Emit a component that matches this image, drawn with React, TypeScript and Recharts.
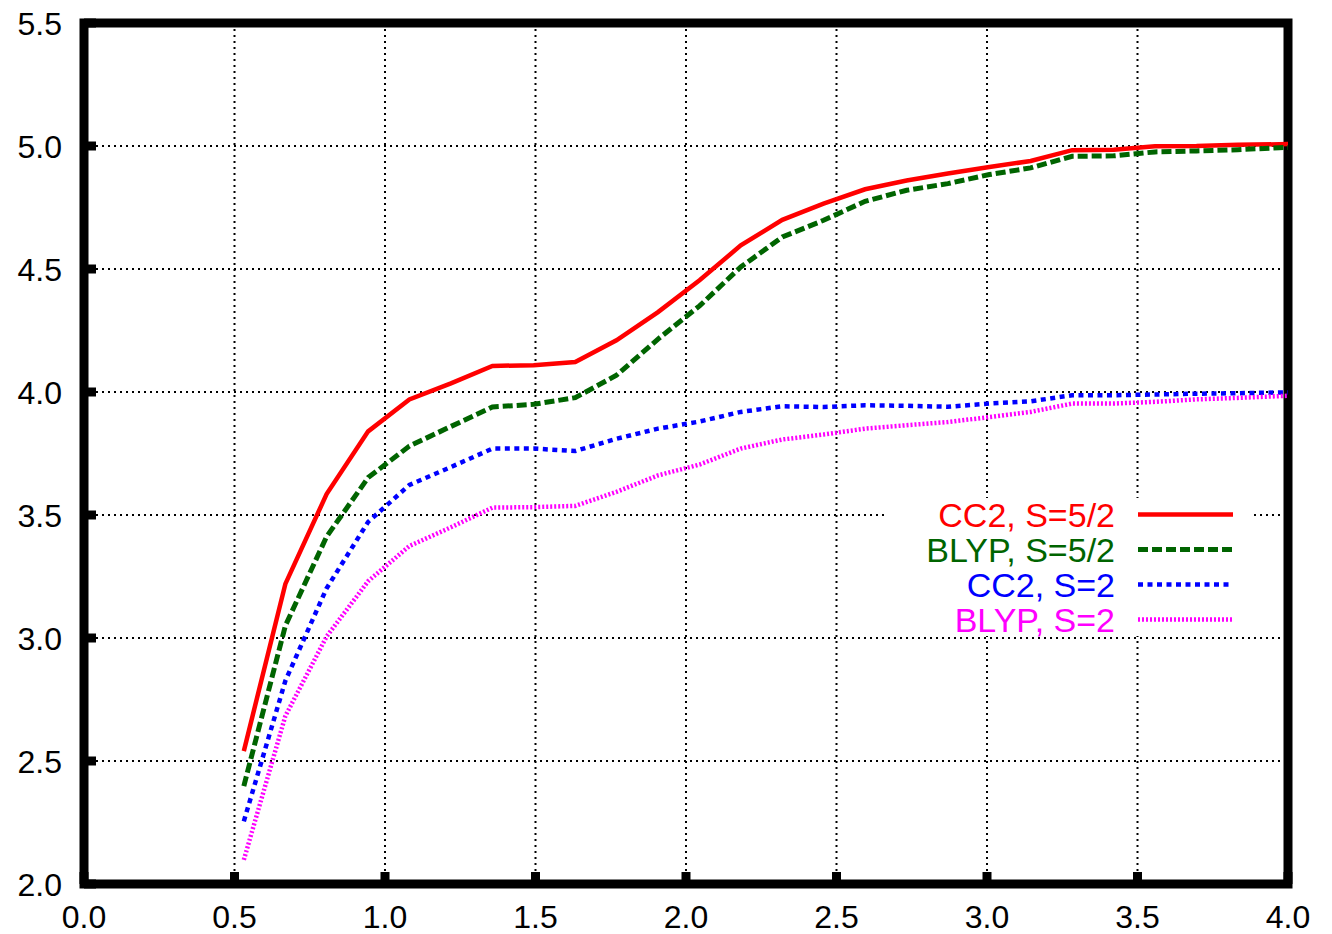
import React from 'react';
import {
  LineChart,
  Line,
  XAxis,
  YAxis,
  CartesianGrid,
  ReferenceArea,
  Legend,
} from 'recharts';

// distance samples and the four curves
const dist = [
  0.531, 0.669, 0.806, 0.944, 1.081, 1.219, 1.357, 1.494, 1.632, 1.769, 1.907, 2.045, 2.182, 2.32,
  2.457, 2.595, 2.733, 2.87, 3.008, 3.145, 3.283, 3.421, 3.558, 3.696, 3.833, 3.971, 4.109,
];
const cc2S52 = [
  2.54, 3.22, 3.585, 3.84, 3.97, 4.035, 4.106, 4.109, 4.122, 4.21, 4.325, 4.454, 4.596, 4.7,
  4.766, 4.824, 4.86, 4.888, 4.915, 4.939, 4.983, 4.985, 4.999, 5.0, 5.005, 5.007, 5.01,
];
const blypS52 = [
  2.398, 3.05, 3.412, 3.652, 3.78, 3.86, 3.939, 3.95, 3.977, 4.068, 4.215, 4.35, 4.508, 4.63,
  4.698, 4.775, 4.82, 4.847, 4.884, 4.911, 4.958, 4.96, 4.976, 4.98, 4.985, 4.993, 4.998,
];
const cc2S2 = [
  2.255, 2.826, 3.202, 3.472, 3.622, 3.695, 3.77, 3.77, 3.76, 3.81, 3.851, 3.88, 3.919, 3.942,
  3.939, 3.946, 3.944, 3.94, 3.953, 3.962, 3.987, 3.987, 3.99, 3.993, 3.995, 3.998, 4.0,
];
const blypS2 = [
  2.098, 2.683, 3.006, 3.231, 3.374, 3.45, 3.53, 3.532, 3.537, 3.594, 3.661, 3.705, 3.77, 3.807,
  3.827, 3.851, 3.865, 3.878, 3.898, 3.919, 3.953, 3.953, 3.96, 3.97, 3.976, 3.983, 3.99,
];

const xTicks = [0, 0.5, 1, 1.5, 2, 2.5, 3, 3.5, 4];
const yTicks = [2, 2.5, 3, 3.5, 4, 4.5, 5, 5.5];

const series = [
  { key: 'cc2S52', name: 'CC2, S=5/2', color: '#ff0000', width: 4.5, dash: undefined },
  { key: 'blypS52', name: 'BLYP, S=5/2', color: '#006400', width: 5, dash: '10 4' },
  { key: 'cc2S2', name: 'CC2, S=2', color: '#0000ff', width: 4.5, dash: '5 4.5' },
  { key: 'blypS2', name: 'BLYP, S=2', color: '#ff00ff', width: 4.5, dash: '2 2' },
];

const data = dist.map((d, i) => ({
  d,
  cc2S52: cc2S52[i],
  blypS52: blypS52[i],
  cc2S2: cc2S2[i],
  blypS2: blypS2[i],
}));

const FONT = '"Liberation Sans", Arial, Helvetica, sans-serif';
const TICK_LEN = 12;
const TICK_W = 9;

const BottomTick = (props: any) => {
  const { x, y, payload } = props;
  return (
    <g>
      <line x1={x} y1={y} x2={x} y2={y - TICK_LEN} stroke="#000" strokeWidth={TICK_W} />
      <text x={x} y={y + 44} textAnchor="middle" fontSize={32} fontFamily={FONT} fill="#000">
        {payload.value.toFixed(1)}
      </text>
    </g>
  );
};

const TopTick = (props: any) => {
  const { x, y } = props;
  return <line x1={x} y1={y} x2={x} y2={y + TICK_LEN} stroke="#000" strokeWidth={TICK_W} />;
};

const LeftTick = (props: any) => {
  const { x, y, payload } = props;
  return (
    <g>
      <line x1={x} y1={y} x2={x + TICK_LEN} y2={y} stroke="#000" strokeWidth={TICK_W} />
      <text x={x - 22} y={y + 11.5} textAnchor="end" fontSize={32} fontFamily={FONT} fill="#000">
        {payload.value.toFixed(1)}
      </text>
    </g>
  );
};

const RightTick = (props: any) => {
  const { x, y } = props;
  return <line x1={x} y1={y} x2={x - TICK_LEN} y2={y} stroke="#000" strokeWidth={TICK_W} />;
};

const renderLegend = (props: any) => {
  const payload = [...(props.payload || [])];
  const order = (e: any) => series.findIndex((s) => s.key === e.dataKey);
  payload.sort((a, b) => order(a) - order(b));
  return (
    <svg width={364} height={138} style={{ display: 'block', overflow: 'visible' }}>
      <rect x={0} y={0} width={364} height={138} fill="#fff" />
      {payload.map((entry: any, i: number) => {
        const s = series[order(entry)] || series[i];
        const cy = 16.5 + i * 35;
        return (
          <g key={s.key}>
            <text
              x={227}
              y={cy + 12}
              textAnchor="end"
              fontSize={34}
              fontFamily={FONT}
              fill={s.color}
            >
              {s.name}
            </text>
            <line
              x1={250}
              y1={cy}
              x2={345}
              y2={cy}
              stroke={s.color}
              strokeWidth={s.width}
              strokeDasharray={s.dash}
            />
          </g>
        );
      })}
    </svg>
  );
};

export default function App() {
  return (
    <div style={{ position: 'absolute', left: 0, top: 0, background: '#fff' }}>
      <LineChart
        width={1332}
        height={934}
        data={data}
        margin={{ top: 23, right: 44, bottom: 0, left: 0 }}
      >
        <CartesianGrid stroke="#000" strokeWidth={2} strokeDasharray="2 4" />
        <XAxis
          dataKey="d"
          type="number"
          domain={[0, 4]}
          ticks={xTicks}
          interval={0}
          allowDataOverflow
          height={50}
          axisLine={false}
          tickLine={false}
          tickSize={0}
          tickMargin={0}
          tick={<BottomTick />}
        />
        <XAxis
          xAxisId="top"
          orientation="top"
          dataKey="d"
          type="number"
          domain={[0, 4]}
          ticks={xTicks}
          interval={0}
          allowDataOverflow
          height={0}
          axisLine={false}
          tickLine={false}
          tickSize={0}
          tickMargin={0}
          tick={<TopTick />}
        />
        <YAxis
          type="number"
          domain={[2, 5.5]}
          ticks={yTicks}
          interval={0}
          allowDataOverflow
          width={84}
          axisLine={false}
          tickLine={false}
          tickSize={0}
          tickMargin={0}
          tick={<LeftTick />}
        />
        <YAxis
          yAxisId="right"
          orientation="right"
          type="number"
          domain={[2, 5.5]}
          ticks={yTicks}
          interval={0}
          allowDataOverflow
          width={0}
          axisLine={false}
          tickLine={false}
          tickSize={0}
          tickMargin={0}
          tick={<RightTick />}
        />
        {series.map((s) => (
          <Line
            key={s.key}
            type="linear"
            dataKey={s.key}
            name={s.name}
            stroke={s.color}
            strokeWidth={s.width}
            strokeDasharray={s.dash}
            dot={false}
            activeDot={false}
            isAnimationActive={false}
          />
        ))}
        <ReferenceArea
          x1={0}
          x2={4}
          y1={2}
          y2={5.5}
          fill="none"
          stroke="#000"
          strokeWidth={9}
          ifOverflow="visible"
        />
        <Legend
          layout="vertical"
          align="center"
          verticalAlign="middle"
          content={renderLegend}
          wrapperStyle={{ position: 'absolute', left: 888, top: 498, width: 364, height: 138 }}
        />
      </LineChart>
    </div>
  );
}
